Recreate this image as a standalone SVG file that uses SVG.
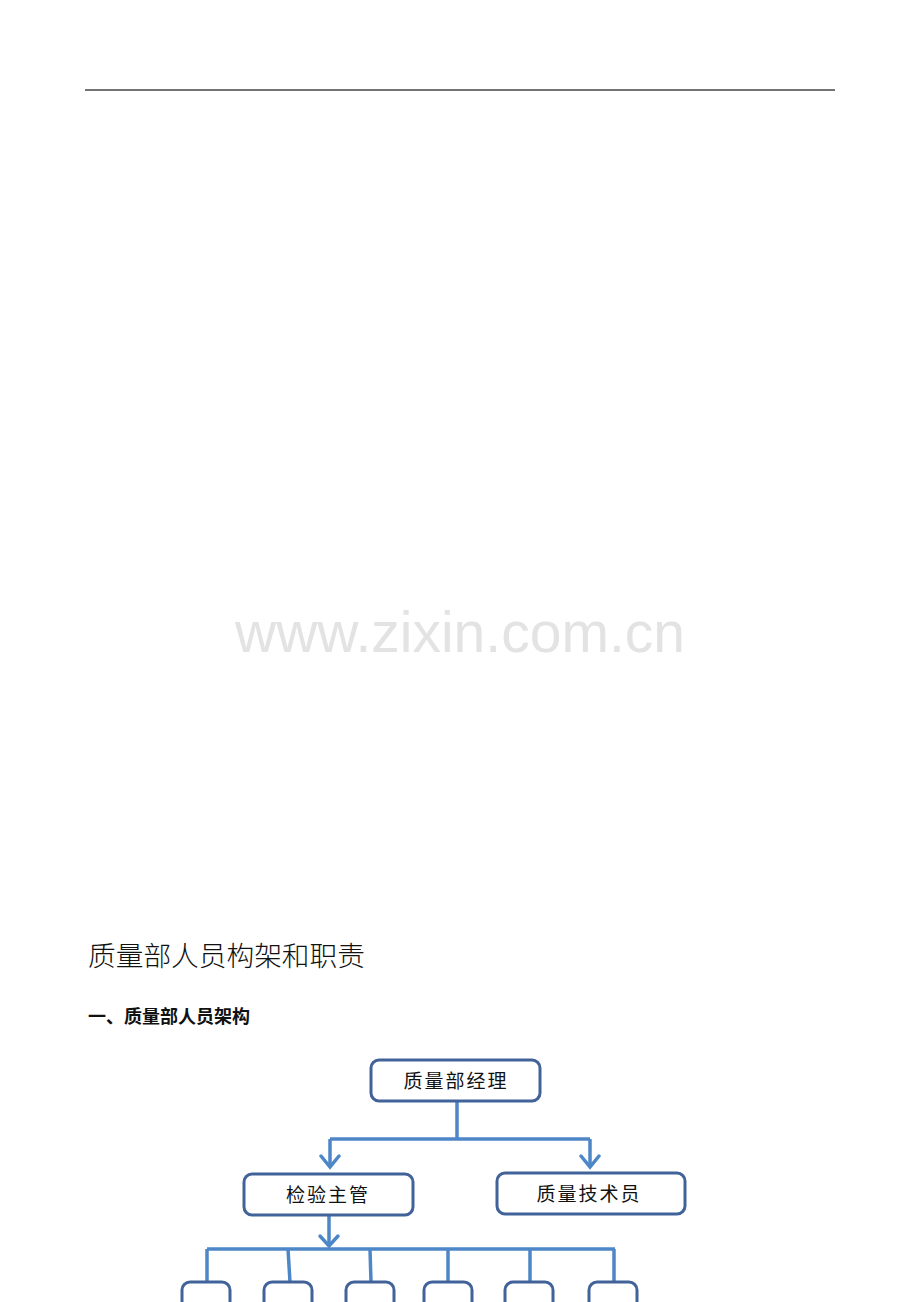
<svg xmlns="http://www.w3.org/2000/svg" width="920" height="1302" viewBox="0 0 920 1302">
<style>
.box{fill:#fff;stroke:#41639A;stroke-width:3}
.lbl{font-family:"Noto Sans CJK SC","Liberation Sans",sans-serif;font-size:19px;fill:#111;text-anchor:middle;letter-spacing:2px}
.con{fill:none;stroke:#4D87C7;stroke-width:3.5}
.ah{fill:none;stroke:#4D87C7;stroke-width:3.5;stroke-linecap:round;stroke-linejoin:miter}
</style>
<rect width="920" height="1302" fill="#fff"/>
<line x1="85" y1="90" x2="835" y2="90" stroke="#444" stroke-width="1.5"/>
<text x="460" y="652" font-family="Liberation Sans,Arial,sans-serif" font-size="58" fill="#E3E3E3" text-anchor="middle" textLength="450" lengthAdjust="spacingAndGlyphs">www.zixin.com.cn</text>
<text x="88" y="966" font-family="Noto Sans CJK SC,sans-serif" font-size="27.7" font-weight="300" fill="#111">质量部人员构架和职责</text>
<text x="88" y="1023" font-family="Noto Sans CJK SC,sans-serif" font-size="18" font-weight="bold" fill="#111">一、质量部人员架构</text>
<g id="connectors">
<path class="con" d="M457 1101 V1139 M330 1139 H590 M330 1139 V1166 M590 1139 V1166"/>
<path class="ah" d="M321 1156 L330 1167 L339 1156 M581 1156 L590 1167 L599 1156"/>
<path class="con" d="M329 1215 V1246"/>
<path class="ah" d="M320 1236 L329 1246 L338 1236"/>
<path class="con" d="M207 1249 H615 M207 1249 V1282 M288 1249 L290 1282 M370 1249 L371 1282 M448 1249 V1282 M530 1249 V1282 M614 1249 V1282"/>
</g>
<g id="n-manager"><rect class="box" x="371" y="1060" width="169" height="41" rx="8"/><text class="lbl" x="456" y="1088">质量部经理</text></g>
<g id="n-inspect"><rect class="box" x="244" y="1174" width="169" height="41" rx="8"/><text class="lbl" x="328" y="1202">检验主管</text></g>
<g id="n-tech"><rect class="box" x="497" y="1173" width="188" height="41" rx="8"/><text class="lbl" x="589" y="1201">质量技术员</text></g>
<g id="n-b1"><rect class="box" x="182" y="1282" width="48" height="40" rx="8"/></g>
<g id="n-b2"><rect class="box" x="264" y="1282" width="48" height="40" rx="8"/></g>
<g id="n-b3"><rect class="box" x="346" y="1282" width="48" height="40" rx="8"/></g>
<g id="n-b4"><rect class="box" x="424" y="1282" width="48" height="40" rx="8"/></g>
<g id="n-b5"><rect class="box" x="505" y="1282" width="48" height="40" rx="8"/></g>
<g id="n-b6"><rect class="box" x="589" y="1282" width="48" height="40" rx="8"/></g>
</svg>
